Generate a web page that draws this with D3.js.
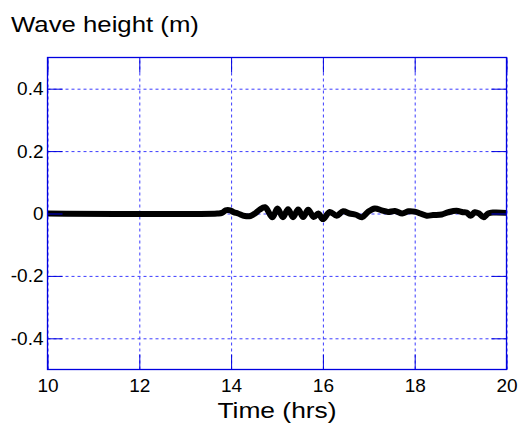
<!DOCTYPE html>
<html>
<head>
<meta charset="utf-8">
<script src="https://cdn.jsdelivr.net/npm/d3@7"></script>
<style>
  html, body { margin: 0; padding: 0; background: #ffffff; }
  svg { display: block; font-family: Arial, "Liberation Sans", Helvetica, sans-serif; }
</style>
</head>
<body>
<svg id="chart" width="520" height="423"></svg>
<script>
// ---- data ----
const timeHrs = [10, 13.7, 13.8, 13.88, 13.98, 14.06, 14.15, 14.3, 14.42, 14.52, 14.62, 14.74,
  14.9, 15.01, 15.13, 15.24, 15.35, 15.46, 15.57, 15.68, 15.8, 15.9, 16.0, 16.15, 16.3, 16.44,
  16.58, 16.72, 16.85, 16.98, 17.13, 17.28, 17.42, 17.57, 17.73, 17.86, 18.0, 18.12, 18.26,
  18.4, 18.59, 18.73, 18.91, 19.05, 19.13, 19.22, 19.31, 19.4, 19.5, 19.6, 19.72, 20];
const waveHeight = [0, 0, 0.002, 0.01, 0.01, 0.004, 0.0, -0.008, -0.008, 0.0, 0.012, 0.02,
  -0.012, 0.016, -0.012, 0.014, -0.012, 0.013, -0.011, 0.012, -0.011, 0.0, -0.018, 0.005, -0.007, 0.007,
  0.0, -0.004, -0.012, 0.005, 0.016, 0.01, 0.005, 0.008, 0.0, 0.007, 0.006, 0.0, -0.007,
  -0.005, -0.003, 0.004, 0.009, 0.004, 0.003, -0.007, 0.004, 0.0, -0.012, 0.0, 0.003, 0.002];
const xTicks = [10, 12, 14, 16, 18, 20];
const yTicks = [-0.4, -0.2, 0, 0.2, 0.4];
const yTickLabels = ["-0.4", "-0.2", "0", "0.2", "0.4"];
const titleText = "Wave height (m)";
const xLabelText = "Time (hrs)";

(function () {
// ---- layout ----
const pL = 47.5, pR = 506.5, pT = 57.5, pB = 369.5;
const W = pR - pL, H = pB - pT;
const axisBlue = "#0000e0";
const gridBlue = "#3c3cff";

const svg = d3.select("#chart");
const x = d3.scaleLinear().domain([10, 20]).range([pL, pR]);
const y = d3.scaleLinear().domain([-0.5, 0.5]).range([pB, pT]);

// grid
const grid = svg.append("g");
grid.append("g").attr("transform", `translate(0,${pB})`)
  .call(d3.axisBottom(x).tickValues(xTicks).tickSize(-H).tickFormat(""))
  .call(g => g.select(".domain").remove());
grid.append("g").attr("transform", `translate(${pL},0)`)
  .call(d3.axisLeft(y).tickValues(yTicks).tickSize(-W).tickFormat(""))
  .call(g => g.select(".domain").remove());
grid.selectAll("line").style("stroke", gridBlue).style("stroke-width", "1px")
  .style("stroke-dasharray", "3,3");

// data line
const data = timeHrs.map((t, i) => [t, waveHeight[i]]);
svg.append("path").datum(data)
  .attr("fill", "none").attr("stroke", "#000").attr("stroke-width", 6)
  .attr("stroke-linejoin", "round").attr("stroke-linecap", "butt")
  .attr("d", d3.line().x(d => x(d[0])).y(d => y(d[1])).curve(d3.curveCatmullRom));

// axes with inward ticks
const tickLen = 15;
const fs = 19;
const ax = svg.append("g");
ax.append("g").attr("transform", `translate(0,${pB})`)
  .call(d3.axisBottom(x).tickValues(xTicks).tickSize(-tickLen).tickPadding(9).tickFormat(d3.format("d")));
ax.append("g").attr("transform", `translate(0,${pT})`)
  .call(d3.axisTop(x).tickValues(xTicks).tickSize(-tickLen).tickFormat(""));
ax.append("g").attr("transform", `translate(${pL},0)`)
  .call(d3.axisLeft(y).tickValues(yTicks).tickSize(-tickLen).tickPadding(4).tickFormat((d, i) => yTickLabels[i]));
ax.append("g").attr("transform", `translate(${pR},0)`)
  .call(d3.axisRight(y).tickValues(yTicks).tickSize(-tickLen).tickFormat(""));
ax.selectAll(".domain").remove();
ax.selectAll("line").style("stroke", axisBlue).style("stroke-width", "1px");
ax.selectAll("text").attr("fill", "#000").style("font-size", fs + "px")
  .style("font-family", "Arial, 'Liberation Sans', sans-serif");

// box
svg.append("rect").attr("x", pL).attr("y", pT).attr("width", W).attr("height", H)
  .attr("fill", "none").attr("stroke", axisBlue).attr("stroke-width", 1.3);

// labels
svg.append("text").attr("transform", "translate(11,32) scale(1.12,1)").text(titleText)
  .style("font-size", "23px").attr("fill", "#000");
svg.append("text").attr("transform", `translate(${(pL + pR) / 2},418) scale(1.2,1)`).attr("text-anchor", "middle")
  .text(xLabelText).style("font-size", "22px").attr("fill", "#000");
})();
</script>
</body>
</html>
